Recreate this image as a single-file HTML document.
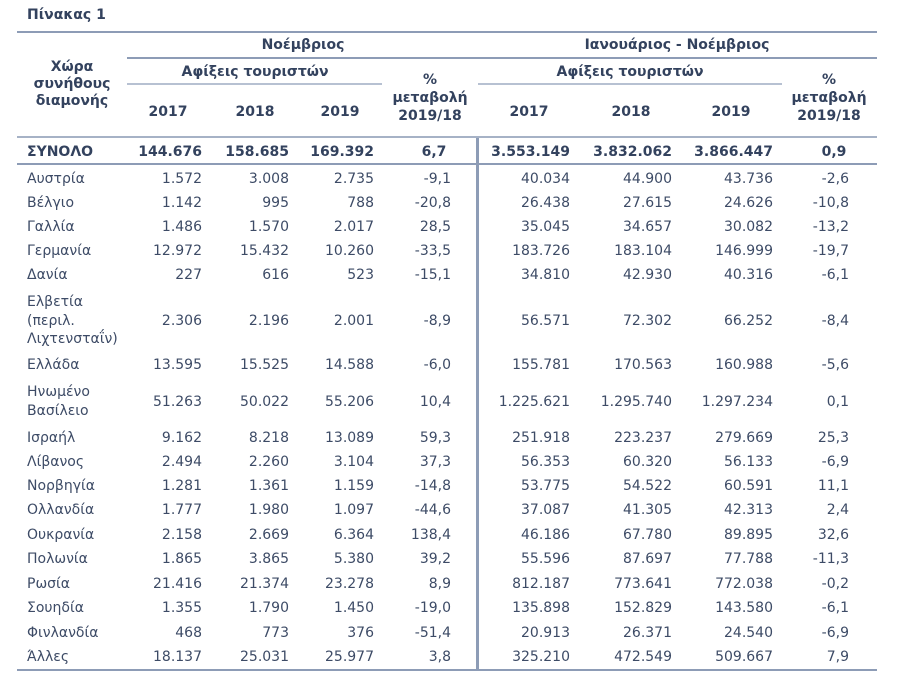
<!DOCTYPE html>
<html><head><meta charset="utf-8"><style>
body{margin:0;width:900px;height:682px;background:#fff;position:relative;overflow:hidden;font-family:"DejaVu Sans","Liberation Sans",sans-serif;color:#3d4b66;font-size:14px}
.t{position:absolute;white-space:nowrap;line-height:18px}
.b{font-weight:bold;color:#33425e}
.r{text-align:right}
.c{text-align:center}
.l{position:absolute;background:#8d9cb6}
</style></head><body>
<div class="t b" style="left:27px;top:6px;">Πίνακας 1</div>
<div class="l" style="left:17px;top:31px;width:860px;height:2px"></div>
<div class="l" style="left:127px;top:57px;width:750px;height:2px"></div>
<div class="l" style="left:127px;top:83px;width:255px;height:2px;background:#b7c1d2"></div>
<div class="l" style="left:478px;top:83px;width:304px;height:2px;background:#b7c1d2"></div>
<div class="l" style="left:17px;top:136px;width:860px;height:2px;background:#a6b2c6"></div>
<div class="l" style="left:17px;top:163px;width:860px;height:2px"></div>
<div class="l" style="left:476px;top:138px;width:3px;height:533px"></div>
<div class="l" style="left:17px;top:669px;width:860px;height:2px"></div>

<div class="t b c" style="left:203px;width:200px;top:36px">Νοέμβριος</div>
<div class="t b c" style="left:577px;width:200px;top:36px">Ιανουάριος - Νοέμβριος</div>
<div class="t b c" style="left:155px;width:200px;top:63px">Αφίξεις τουριστών</div>
<div class="t b c" style="left:530px;width:200px;top:63px">Αφίξεις τουριστών</div>
<div class="t b c" style="left:22px;width:100px;top:59px;line-height:17px">Χώρα<br>συνήθους<br>διαμονής</div>
<div class="t b c" style="left:370px;width:120px;top:71px;line-height:18px">%<br>μεταβολή<br>2019/18</div>
<div class="t b c" style="left:769px;width:120px;top:71px;line-height:18px">%<br>μεταβολή<br>2019/18</div>
<div class="t b c" style="left:128px;width:80px;top:103px">2017</div>
<div class="t b c" style="left:215px;width:80px;top:103px">2018</div>
<div class="t b c" style="left:300px;width:80px;top:103px">2019</div>
<div class="t b c" style="left:489px;width:80px;top:103px">2017</div>
<div class="t b c" style="left:591px;width:80px;top:103px">2018</div>
<div class="t b c" style="left:691px;width:80px;top:103px">2019</div>

<div id="rows"></div>
<script>
var R=[
["ΣΥΝΟΛΟ","144.676","158.685","169.392","6,7","3.553.149","3.832.062","3.866.447","0,9",152,1],
["Αυστρία","1.572","3.008","2.735","-9,1","40.034","44.900","43.736","-2,6",179],
["Βέλγιο","1.142","995","788","-20,8","26.438","27.615","24.626","-10,8",203],
["Γαλλία","1.486","1.570","2.017","28,5","35.045","34.657","30.082","-13,2",227],
["Γερμανία","12.972","15.432","10.260","-33,5","183.726","183.104","146.999","-19,7",251],
["Δανία","227","616","523","-15,1","34.810","42.930","40.316","-6,1",275],
["Ελβετία<br>(περιλ.<br>Λιχτενσταΐν)","2.306","2.196","2.001","-8,9","56.571","72.302","66.252","-8,4",321],
["Ελλάδα","13.595","15.525","14.588","-6,0","155.781","170.563","160.988","-5,6",365],
["Ηνωμένο<br>Βασίλειο","51.263","50.022","55.206","10,4","1.225.621","1.295.740","1.297.234","0,1",402],
["Ισραήλ","9.162","8.218","13.089","59,3","251.918","223.237","279.669","25,3",438],
["Λίβανος","2.494","2.260","3.104","37,3","56.353","60.320","56.133","-6,9",462],
["Νορβηγία","1.281","1.361","1.159","-14,8","53.775","54.522","60.591","11,1",486],
["Ολλανδία","1.777","1.980","1.097","-44,6","37.087","41.305","42.313","2,4",510],
["Ουκρανία","2.158","2.669","6.364","138,4","46.186","67.780","89.895","32,6",535],
["Πολωνία","1.865","3.865","5.380","39,2","55.596","87.697","77.788","-11,3",559],
["Ρωσία","21.416","21.374","23.278","8,9","812.187","773.641","772.038","-0,2",584],
["Σουηδία","1.355","1.790","1.450","-19,0","135.898","152.829","143.580","-6,1",608],
["Φινλανδία","468","773","376","-51,4","20.913","26.371","24.540","-6,9",633],
["Άλλες","18.137","25.031","25.977","3,8","325.210","472.549","509.667","7,9",657]];
var ends=[202,289,374,451,570,672,773,849],h="";
R.forEach(function(r){var y=r[9],b=r[10]?" b":"";var n=(r[0].match(/<br>/g)||[]).length+1;
h+='<div class="t'+b+'" style="left:27px;top:'+(y-n*9.3)+'px;line-height:18.5px">'+r[0]+'</div>';
for(var i=0;i<8;i++){var e=ends[i];
if(b&&i==3){h+='<div class="t b c" style="left:394px;width:80px;top:'+(y-9)+'px">'+r[4]+'</div>';continue;}
if(b&&i==7){h+='<div class="t b c" style="left:794px;width:80px;top:'+(y-9)+'px">'+r[8]+'</div>';continue;}
h+='<div class="t r'+b+'" style="left:'+(e-150)+'px;width:150px;top:'+(y-9)+'px">'+r[i+1]+'</div>';}});
document.getElementById("rows").innerHTML=h;
</script>
</body></html>
